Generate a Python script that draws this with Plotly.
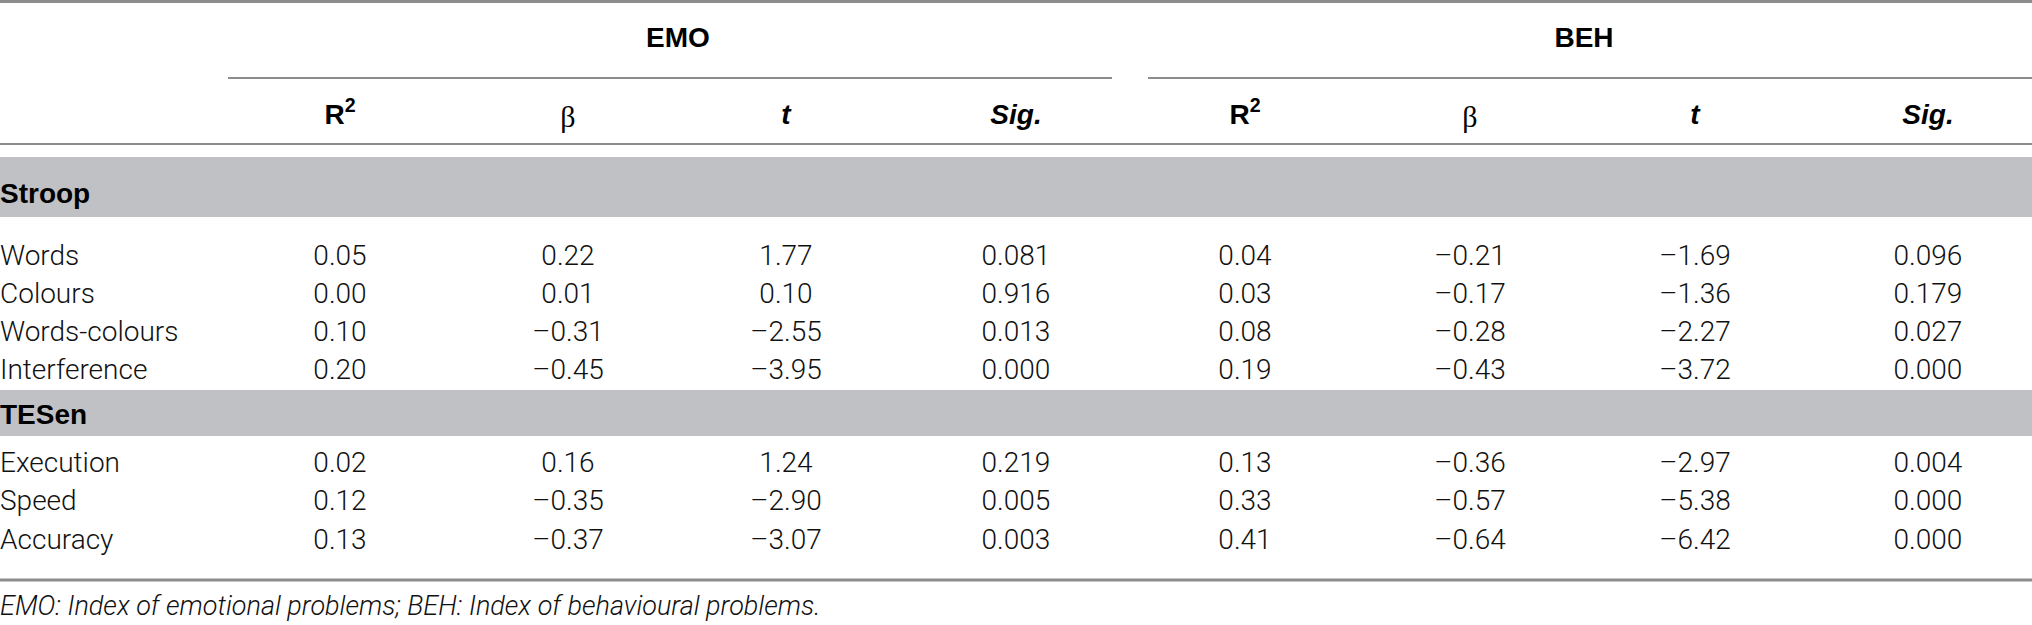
import plotly.graph_objects as go

# Table data
groups = ["EMO", "BEH"]
stat_names = ["R2", "beta", "t", "Sig."]
sections = ["Stroop", "TESen"]
row_labels = ["Words", "Colours", "Words-colours", "Interference",
              "Execution", "Speed", "Accuracy"]

emo_r2 = [0.05, 0.00, 0.10, 0.20, 0.02, 0.12, 0.13]
emo_beta = [0.22, 0.01, -0.31, -0.45, 0.16, -0.35, -0.37]
emo_t = [1.77, 0.10, -2.55, -3.95, 1.24, -2.90, -3.07]
emo_sig = [0.081, 0.916, 0.013, 0.000, 0.219, 0.005, 0.003]

beh_r2 = [0.04, 0.03, 0.08, 0.19, 0.13, 0.33, 0.41]
beh_beta = [-0.21, -0.17, -0.28, -0.43, -0.36, -0.57, -0.64]
beh_t = [-1.69, -1.36, -2.27, -3.72, -2.97, -5.38, -6.42]
beh_sig = [0.096, 0.179, 0.027, 0.000, 0.004, 0.000, 0.000]

footnote = "EMO: Index of emotional problems; BEH: Index of behavioural problems."

# layout positions (pixels, image coordinates)
W, H = 2032, 625
col_x = [340, 568, 786, 1016, 1245, 1470, 1695, 1928]
row_y = [258, 296, 334, 372, 465, 503, 542]
section_y = [196, 417]
section_band = [(157, 217), (390, 436)]
group_x = [678, 1584]
group_line = [(228, 1112), (1148, W)]

LIGHT = "Roboto"
BOLD = "Liberation Sans"
SIZE = 28
GREY_BAND = "rgb(192,193,196)"
RULE = "rgb(140,140,140)"


def fmt(v, d):
    s = f"{v:.{d}f}"
    return s.replace("-", "\u2013")


fig = go.Figure()

# grey section bands and rules
for y0, y1 in section_band:
    fig.add_shape(type="rect", x0=0, x1=W, y0=y0, y1=y1,
                  fillcolor=GREY_BAND, line_width=0, layer="below")
fig.add_shape(type="line", x0=0, x1=W, y0=1.5, y1=1.5, line=dict(color=RULE, width=3))
for x0, x1 in group_line:
    fig.add_shape(type="line", x0=x0, x1=x1, y0=78, y1=78, line=dict(color=RULE, width=2))
fig.add_shape(type="line", x0=0, x1=W, y0=144, y1=144, line=dict(color=RULE, width=2))
fig.add_shape(type="line", x0=0, x1=W, y0=580, y1=580, line=dict(color=RULE, width=3))

# group headers
fig.add_trace(go.Scatter(
    x=group_x, y=[40, 40], mode="text",
    text=[f"<b>{g}</b>" for g in groups],
    textposition="middle center",
    textfont=dict(family=BOLD, size=SIZE, color="black"),
))

# sub headers
head_text = {"R2": "<b>R<sup>2</sup></b>", "t": "<b><i>t</i></b>", "Sig.": "<b><i>Sig.</i></b>"}
hx = [x for i, x in enumerate(col_x) if stat_names[i % 4] != "beta"]
ht = [head_text[stat_names[i % 4]] for i in range(8) if stat_names[i % 4] != "beta"]
fig.add_trace(go.Scatter(
    x=hx, y=[117] * len(hx), mode="text", text=ht,
    textposition="middle center",
    textfont=dict(family=BOLD, size=SIZE, color="black"),
))
fig.add_trace(go.Scatter(
    x=[col_x[1], col_x[5]], y=[119, 119], mode="text", text=["\u03b2", "\u03b2"],
    textposition="middle center",
    textfont=dict(family="Liberation Serif", size=SIZE + 2, color="black"),
))

# section labels
fig.add_trace(go.Scatter(
    x=[0, 0], y=section_y, mode="text",
    text=[f"<b>{s}</b>" for s in sections],
    textposition="middle right",
    textfont=dict(family=BOLD, size=SIZE, color="black"),
))

# row labels
fig.add_trace(go.Scatter(
    x=[0] * len(row_labels), y=row_y, mode="text", text=row_labels,
    textposition="middle right",
    textfont=dict(family=LIGHT, size=SIZE, color="#111", weight=300),
))

# value columns
columns = [(emo_r2, 2), (emo_beta, 2), (emo_t, 2), (emo_sig, 3),
           (beh_r2, 2), (beh_beta, 2), (beh_t, 2), (beh_sig, 3)]
for (vals, d), x in zip(columns, col_x):
    fig.add_trace(go.Scatter(
        x=[x] * len(vals), y=row_y, mode="text",
        text=[fmt(v, d) for v in vals],
        textposition="middle center",
        textfont=dict(family=LIGHT, size=SIZE, color="#111", weight=300),
    ))

# footnote
fig.add_trace(go.Scatter(
    x=[0], y=[608], mode="text", text=[footnote],
    textposition="middle right",
    textfont=dict(family=LIGHT, size=SIZE - 1, color="#111", weight=300, style="italic"),
))

fig.update_traces(hoverinfo="skip", cliponaxis=False)
fig.update_layout(
    width=W, height=H,
    margin=dict(l=0, r=0, t=0, b=0),
    paper_bgcolor="white", plot_bgcolor="white",
    showlegend=False,
    xaxis=dict(range=[0, W], visible=False, fixedrange=True),
    yaxis=dict(range=[H, 0], visible=False, fixedrange=True),
)

# drop the default page margin so the figure sits at the window corner
fig.write_html("out.html", config={"displayModeBar": False},
               post_script="document.body.style.margin='0';document.body.style.overflow='hidden';")
